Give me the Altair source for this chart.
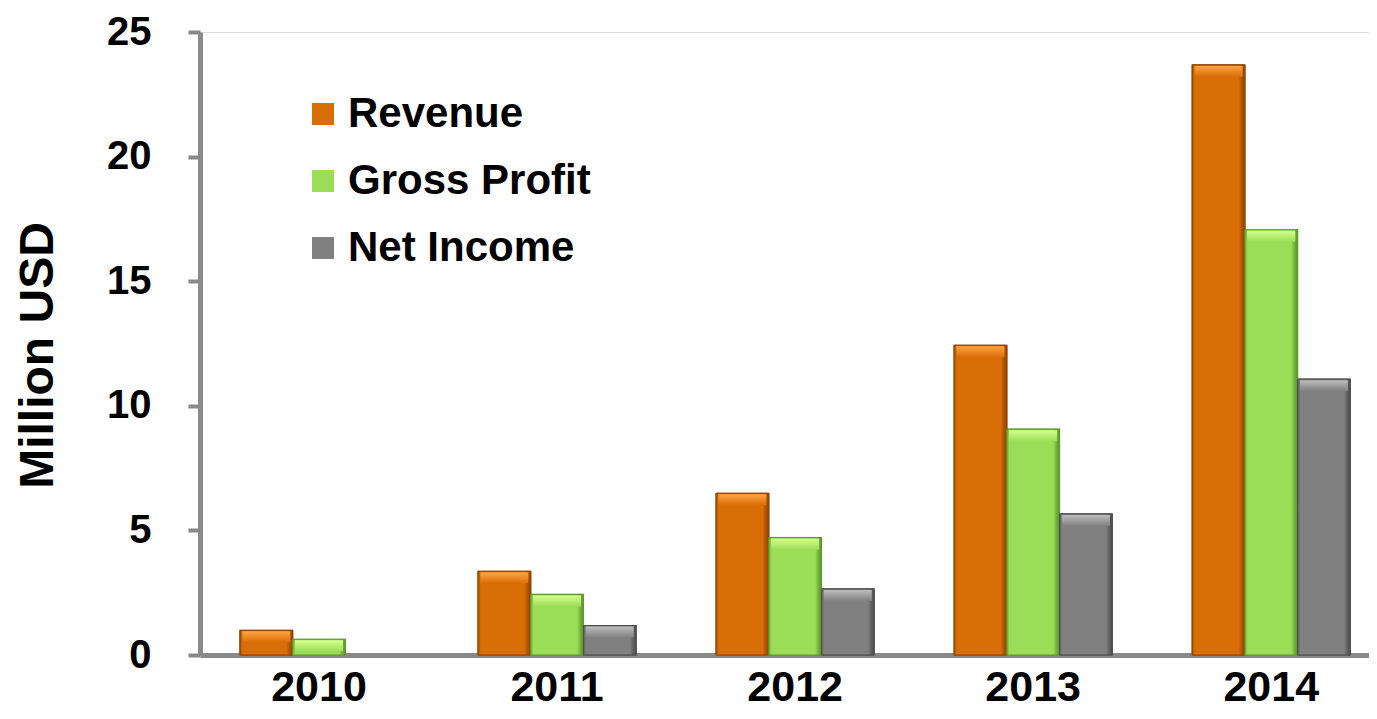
import altair as alt
import pandas as pd

years = ["2010", "2011", "2012", "2013", "2014"]
series_names = ["Revenue", "Gross Profit", "Net Income"]
revenue = [0.99, 3.36, 6.49, 12.43, 23.68]
gross_profit = [0.63, 2.43, 4.71, 9.06, 17.06]
net_income = [0.0, 1.18, 2.65, 5.66, 11.07]

base_colors = ["#D96D06", "#9BDD57", "#808080"]
edge_colors = ["#8F4400", "#5E9A2A", "#4D4D4D"]
shade_colors = ["#A85200", "#6FAA38", "#5E5E5E"]
light_colors = ["#FFA443", "#D6FF8E", "#BDBDBD"]

rows = []
for name, vals in zip(series_names, [revenue, gross_profit, net_income]):
    for y, v in zip(years, vals):
        rows.append({"year": y, "series": name, "value": v})
df = pd.DataFrame(rows)

FONT = "Liberation Sans"
AXIS_GRAY = "#8A8A8A"

x_enc = alt.X(
    "year:N",
    scale=alt.Scale(paddingInner=0.336, paddingOuter=0.1233, align=0.681),
    axis=alt.Axis(
        title=None, labelAngle=0, ticks=False, tickSize=0,
        labelFontSize=43, labelFont=FONT, labelFontWeight="bold", labelColor="black",
        labelPadding=11, domainColor=AXIS_GRAY, domainWidth=5, grid=False,
    ),
)
xoff_enc = alt.XOffset("series:N", scale=alt.Scale(domain=series_names, paddingInner=0, paddingOuter=0))
y_enc = alt.Y(
    "value:Q",
    scale=alt.Scale(domain=[0, 25], nice=False),
    axis=alt.Axis(
        values=[0, 5, 10, 15, 20, 25], title="Million USD", grid=False,
        labelFontSize=40, labelFont=FONT, labelFontWeight="bold", labelColor="black",
        labelPadding=37, tickSize=12, tickWidth=4, tickColor=AXIS_GRAY,
        domainColor=AXIS_GRAY, domainWidth=5,
        titleFontSize=48, titleFont=FONT, titleFontWeight="bold", titleColor="black",
        titleX=-148, titleY=323, titleBaseline="alphabetic", titleAngle=270,
    ),
)

bars = alt.Chart(df).transform_filter(alt.datum.value > 0).mark_bar(strokeWidth=1.2).encode(
    x=x_enc,
    xOffset=xoff_enc,
    y=y_enc,
    color=alt.Color(
        "series:N",
        scale=alt.Scale(domain=series_names, range=base_colors),
        legend=alt.Legend(
            title=None, orient="none", legendX=102, legendY=61,
            symbolType="square", symbolSize=484, symbolStrokeWidth=0,
            symbolOpacity=1, labelFontSize=42, labelFont=FONT,
            labelFontWeight="bold", labelColor="black", labelOffset=4,
            rowPadding=25, padding=0, labelLimit=600,
        ),
    ),
    stroke=alt.Stroke("series:N", scale=alt.Scale(domain=series_names, range=edge_colors), legend=None),
)

layers = [bars]
for name, base, shade, edge in zip(series_names, base_colors, shade_colors, edge_colors):
    hgrad = alt.Gradient(
        gradient="linear",
        stops=[
            alt.GradientStop(color=shade, offset=0),
            alt.GradientStop(color=base, offset=0.05),
            alt.GradientStop(color=base, offset=0.88),
            alt.GradientStop(color=shade, offset=0.95),
            alt.GradientStop(color=edge, offset=1),
        ],
        x1=0, x2=1, y1=0, y2=0,
    )
    shaded = alt.Chart(df).transform_filter(
        (alt.datum.series == name) & (alt.datum.value > 0)
    ).mark_bar(color=hgrad, stroke=edge, strokeWidth=1).encode(
        x=alt.X("year:N"),
        xOffset=alt.XOffset("series:N"),
        y=alt.Y("value:Q"),
    )
    layers.append(shaded)

for name, light, base in zip(series_names, light_colors, base_colors):
    grad = alt.Gradient(
        gradient="linear",
        stops=[alt.GradientStop(color=light, offset=0), alt.GradientStop(color=base, offset=1)],
        x1=0, x2=0, y1=0, y2=1,
    )
    cap = alt.Chart(df).transform_filter(
        (alt.datum.series == name) & (alt.datum.value > 0)
    ).mark_tick(thickness=11, size=48, yOffset=6.5, color=grad, opacity=1).encode(
        x=alt.X("year:N"),
        xOffset=alt.XOffset("series:N"),
        y=alt.Y("value:Q"),
    )
    layers.append(cap)

chart = alt.layer(*layers).properties(
    width=1169,
    height=623,
    autosize=alt.AutoSizeParams(type="none"),
    padding={"left": 192, "top": 24, "right": 0, "bottom": 55},
).configure_view(fill="#F2F2F2", stroke=None).configure(font=FONT)

chart.save("out.html", embed_options={"renderer": "svg", "actions": False})
